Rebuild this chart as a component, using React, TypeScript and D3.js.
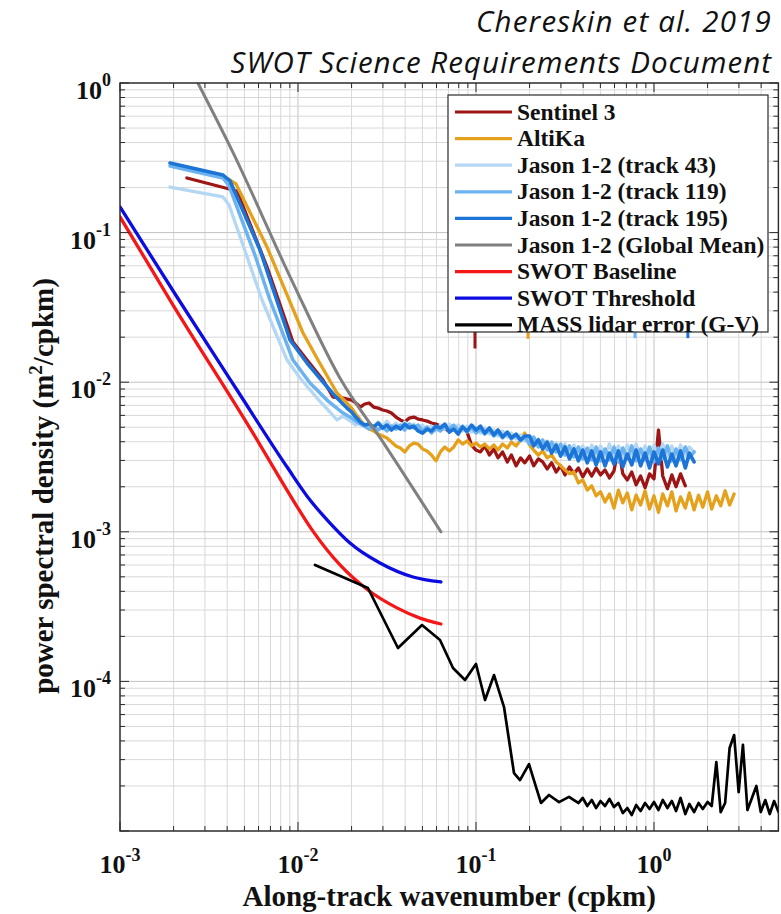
import React from 'react';
import * as d3 from 'd3';

// ---------------- data ----------------
const xDomain: [number, number] = [1e-3, 5];
const yDomain: [number, number] = [1e-5, 1];
const xTickExps = [-3, -2, -1, 0];
const yTickExps = [0, -1, -2, -3, -4];

const titleLines = ['Chereskin et al. 2019', 'SWOT Science Requirements Document'];
const xTitle = 'Along-track wavenumber (cpkm)';

// shared wavenumber sampling grid (cpkm) for the noisy high-wavenumber parts
const kGrid = [
  0.0200, 0.0211, 0.0224, 0.0237, 0.0251, 0.0266, 0.0282, 0.0299, 0.0316, 0.0335,
  0.0355, 0.0376, 0.0398, 0.0422, 0.0447, 0.0473, 0.0501, 0.0531, 0.0562, 0.0596,
  0.0631, 0.0668, 0.0708, 0.0750, 0.0794, 0.0841, 0.0891, 0.0944, 0.100, 0.106,
  0.112, 0.119, 0.126, 0.133, 0.141, 0.150, 0.158, 0.168, 0.178, 0.188,
  0.200, 0.211, 0.224, 0.237, 0.251, 0.266, 0.282, 0.299, 0.316, 0.335,
  0.355, 0.376, 0.398, 0.422, 0.447, 0.473, 0.501, 0.531, 0.562, 0.596,
  0.631, 0.668, 0.708, 0.750, 0.794, 0.841, 0.891, 0.944, 1.00, 1.06,
  1.12, 1.19, 1.26, 1.33, 1.41, 1.50, 1.58, 1.68, 1.78, 1.88,
  2.00, 2.11, 2.24, 2.37, 2.51, 2.66, 2.82, 2.99, 3.16, 3.35,
  3.55, 3.76, 3.98, 4.22, 4.47, 4.73, 5.01,
];

// Sentinel 3
const sentinelHead: [number, number][] = [
  [0.002378, 0.2317], [0.004543, 0.1897], [0.0067, 0.0589], [0.00937, 0.01856],
  [0.01124, 0.01407], [0.01382, 0.01035], [0.01572, 0.00796], [0.0179, 0.00784],
];
const sentinelTail = [
  7.60e-3, 7.26e-3, 6.82e-3, 7.15e-3, 7.26e-3, 6.82e-3, 6.72e-3, 6.52e-3, 6.42e-3, 6.22e-3,
  5.85e-3, 5.59e-3, 5.42e-3, 5.76e-3, 5.85e-3, 5.67e-3, 5.59e-3, 5.50e-3, 5.33e-3, 5.25e-3,
  5.09e-3, 4.86e-3, 4.72e-3, 4.86e-3, 4.79e-3, 4.94e-3, 4.64e-3, 3.80e-3, 3.52e-3, 3.42e-3,
  3.75e-3, 3.26e-3, 3.58e-3, 3.12e-3, 3.42e-3, 2.93e-3, 3.26e-3, 2.76e-3, 3.12e-3, 2.89e-3,
  3.21e-3, 2.76e-3, 3.07e-3, 2.93e-3, 2.63e-3, 2.89e-3, 2.51e-3, 2.76e-3, 2.40e-3, 2.71e-3,
  2.44e-3, 2.67e-3, 2.33e-3, 2.63e-3, 2.36e-3, 2.67e-3, 2.40e-3, 2.59e-3, 2.29e-3, 2.55e-3,
  3.69e-3, 2.44e-3, 2.22e-3, 2.51e-3, 2.06e-3, 2.36e-3, 1.97e-3, 2.44e-3, 2.26e-3, 4.79e-3,
  2.36e-3, 1.94e-3, 2.40e-3, 2.00e-3, 2.44e-3, 2.03e-3,
];

// AltiKa
const altikaHead: [number, number][] = [
  [0.004043, 0.2282], [0.004485, 0.2113], [0.0067, 0.0801], [0.00868, 0.03828],
  [0.01067, 0.02132], [0.01324, 0.01344], [0.01656, 0.00847], [0.01885, 0.00726],
];
const altikaTail = [
  6.72e-3, 6.13e-3, 5.59e-3, 5.09e-3, 4.86e-3, 4.72e-3, 4.50e-3, 4.37e-3, 4.24e-3, 3.98e-3,
  3.75e-3, 3.63e-3, 3.42e-3, 3.75e-3, 3.92e-3, 3.86e-3, 3.58e-3, 3.47e-3, 3.26e-3, 2.98e-3,
  3.42e-3, 3.69e-3, 3.47e-3, 3.69e-3, 4.11e-3, 3.86e-3, 4.05e-3, 3.75e-3, 3.92e-3, 3.69e-3,
  3.86e-3, 3.58e-3, 3.80e-3, 3.52e-3, 3.86e-3, 3.63e-3, 3.98e-3, 3.75e-3, 4.11e-3, 4.57e-3,
  3.80e-3, 3.52e-3, 3.26e-3, 3.47e-3, 3.12e-3, 3.26e-3, 2.93e-3, 2.76e-3, 2.59e-3, 2.44e-3,
  2.51e-3, 2.12e-3, 2.22e-3, 1.90e-3, 2.03e-3, 1.74e-3, 1.85e-3, 1.58e-3, 1.79e-3, 1.44e-3,
  1.90e-3, 1.56e-3, 1.82e-3, 1.40e-3, 1.76e-3, 1.51e-3, 1.88e-3, 1.42e-3, 1.74e-3, 1.35e-3,
  1.79e-3, 1.49e-3, 1.85e-3, 1.38e-3, 1.71e-3, 1.44e-3, 1.82e-3, 1.40e-3, 1.76e-3, 1.46e-3,
  1.85e-3, 1.42e-3, 1.74e-3, 1.49e-3, 1.88e-3, 1.51e-3, 1.79e-3,
];

// Jason 1-2 (track 43)
const jason43Head: [number, number][] = [
  [0.00191, 0.2017], [0.00379, 0.173], [0.0041, 0.153], [0.00628, 0.03544],
  [0.00868, 0.01407], [0.01026, 0.01067], [0.01279, 0.00784], [0.01513, 0.00632],
  [0.01656, 0.00559], [0.0179, 0.00594],
];
const jason43Tail = [
  5.42e-3, 5.17e-3, 5.50e-3, 5.02e-3, 5.33e-3, 4.94e-3, 5.42e-3, 5.09e-3, 5.50e-3, 5.02e-3,
  5.33e-3, 4.94e-3, 5.42e-3, 5.02e-3, 5.25e-3, 4.86e-3, 5.17e-3, 4.79e-3, 5.09e-3, 4.72e-3,
  5.17e-3, 4.86e-3, 5.25e-3, 4.79e-3, 5.17e-3, 4.72e-3, 5.09e-3, 4.64e-3, 5.02e-3, 4.57e-3,
  4.94e-3, 4.50e-3, 4.79e-3, 4.37e-3, 4.72e-3, 4.30e-3, 4.57e-3, 4.17e-3, 4.44e-3, 4.05e-3,
  4.30e-3, 3.80e-3, 4.17e-3, 3.63e-3, 4.05e-3, 3.47e-3, 3.92e-3, 3.36e-3, 3.86e-3, 3.26e-3,
  3.80e-3, 3.21e-3, 3.75e-3, 3.16e-3, 3.80e-3, 3.12e-3, 3.75e-3, 3.21e-3, 3.86e-3, 3.16e-3,
  3.75e-3, 3.12e-3, 3.80e-3, 3.21e-3, 3.86e-3, 3.16e-3, 3.75e-3, 3.12e-3, 3.80e-3, 3.21e-3,
  3.86e-3, 3.16e-3, 3.75e-3, 3.12e-3, 3.80e-3, 3.21e-3, 3.69e-3, 3.42e-3,
];

// Jason 1-2 (track 119)
const jason119Head: [number, number][] = [
  [0.00191, 0.2788], [0.00379, 0.2317], [0.0041, 0.2049], [0.00573, 0.0708],
  [0.00696, 0.03544], [0.00937, 0.01407], [0.01168, 0.00988], [0.01455, 0.0076],
  [0.0179, 0.00622],
];
const jason119Tail = [
  5.76e-3, 5.50e-3, 5.25e-3, 5.09e-3, 4.86e-3, 5.09e-3, 4.79e-3, 5.02e-3, 4.72e-3, 5.09e-3,
  4.86e-3, 5.17e-3, 4.79e-3, 5.25e-3, 4.94e-3, 5.17e-3, 4.72e-3, 5.02e-3, 4.57e-3, 4.94e-3,
  4.72e-3, 5.09e-3, 4.86e-3, 5.17e-3, 4.72e-3, 5.09e-3, 4.64e-3, 5.02e-3, 4.57e-3, 4.86e-3,
  4.50e-3, 4.79e-3, 4.37e-3, 4.64e-3, 4.24e-3, 4.57e-3, 4.17e-3, 4.44e-3, 4.05e-3, 4.30e-3,
  3.86e-3, 4.30e-3, 3.69e-3, 4.11e-3, 3.52e-3, 3.98e-3, 3.42e-3, 3.86e-3, 3.26e-3, 3.75e-3,
  3.16e-3, 3.69e-3, 3.07e-3, 3.63e-3, 3.02e-3, 3.69e-3, 2.98e-3, 3.58e-3, 3.02e-3, 3.69e-3,
  2.93e-3, 3.63e-3, 3.07e-3, 3.75e-3, 2.98e-3, 3.58e-3, 3.02e-3, 3.69e-3, 2.93e-3, 3.63e-3,
  3.07e-3, 3.75e-3, 2.98e-3, 3.58e-3, 3.02e-3, 3.69e-3, 3.12e-3, 3.42e-3,
];

// Jason 1-2 (track 195)
const jason195Head: [number, number][] = [
  [0.00191, 0.2919], [0.00379, 0.2427], [0.00415, 0.2213], [0.00612, 0.0765],
  [0.00902, 0.01915], [0.01124, 0.01344], [0.01382, 0.01003], [0.01614, 0.00809],
  [0.01885, 0.00672],
];
const jason195Tail = [
  6.32e-3, 5.85e-3, 5.42e-3, 5.17e-3, 5.25e-3, 5.02e-3, 5.33e-3, 4.94e-3, 5.17e-3, 4.79e-3,
  5.09e-3, 4.86e-3, 5.25e-3, 4.94e-3, 5.09e-3, 4.72e-3, 4.57e-3, 4.86e-3, 4.72e-3, 5.09e-3,
  4.94e-3, 5.25e-3, 4.64e-3, 4.86e-3, 4.50e-3, 5.02e-3, 4.72e-3, 5.17e-3, 4.79e-3, 5.09e-3,
  4.57e-3, 4.94e-3, 4.44e-3, 4.79e-3, 4.30e-3, 4.64e-3, 4.24e-3, 4.50e-3, 4.11e-3, 4.37e-3,
  4.37e-3, 3.75e-3, 4.11e-3, 3.58e-3, 3.98e-3, 3.36e-3, 3.80e-3, 3.21e-3, 3.69e-3, 3.07e-3,
  3.58e-3, 2.98e-3, 3.52e-3, 2.89e-3, 3.47e-3, 2.80e-3, 3.42e-3, 2.76e-3, 3.36e-3, 2.84e-3,
  3.47e-3, 2.71e-3, 3.31e-3, 2.80e-3, 3.52e-3, 2.76e-3, 3.36e-3, 2.67e-3, 3.42e-3, 2.84e-3,
  3.52e-3, 2.71e-3, 3.31e-3, 2.76e-3, 3.47e-3, 2.67e-3, 3.36e-3, 2.93e-3,
];

// Jason 1-2 (Global Mean)
const jasonGlobal: [number, number][] = [
  [0.00274, 1.0], [0.00425, 0.356], [0.00938, 0.046], [0.0172, 0.01067],
  [0.0308, 0.0038], [0.0635, 0.001],
];

// SWOT Baseline
const swotBaseline: [number, number][] = [
  [0.001, 0.1272], [0.001986, 0.0328], [0.005587, 0.00457], [0.009016, 0.00176],
  [0.01199, 0.00103], [0.01722, 0.0006], [0.02471, 0.000408], [0.03597, 0.00031],
  [0.04842, 0.000265], [0.0635, 0.000242],
];

// SWOT Threshold
const swotThreshold: [number, number][] = [
  [0.001, 0.1483], [0.00209, 0.03711], [0.004543, 0.00887], [0.00868, 0.00271],
  [0.01168, 0.00163], [0.01513, 0.001145], [0.01959, 0.000842], [0.02888, 0.000619],
  [0.04426, 0.000499], [0.0635, 0.000462],
];

// MASS lidar error (G-V)
const massHead: [number, number][] = [
  [0.01246, 6.0e-4], [0.02471, 4.21e-4], [0.03645, 1.672e-4], [0.04973, 2.38e-4],
  [0.06278, 1.891e-4], [0.07429, 1.229e-4], [0.08675, 1.022e-4], [0.1, 1.307e-4],
  [0.1124, 7.51e-5], [0.1263, 1.103e-4], [0.1437, 6.74e-5], [0.1635, 2.44e-5],
  [0.1767, 2.19e-5], [0.1985, 2.80e-5], [0.2173, 1.97e-5], [0.2318, 1.54e-5],
  [0.2571, 1.74e-5], [0.2926, 1.56e-5], [0.3331, 1.69e-5],
];
const MASS_TAIL_START = 50;
const massTail = [
  1.611e-5, 1.539e-5, 1.662e-5, 1.469e-5, 1.611e-5, 1.424e-5, 1.586e-5, 1.469e-5, 1.636e-5, 1.446e-5,
  1.539e-5, 1.319e-5, 1.424e-5, 1.279e-5, 1.492e-5, 1.360e-5, 1.539e-5, 1.403e-5, 1.563e-5, 1.381e-5,
  1.611e-5, 1.424e-5, 1.586e-5, 1.360e-5, 1.662e-5, 1.299e-5, 1.515e-5, 1.339e-5, 1.539e-5, 1.403e-5,
  1.563e-5, 1.469e-5, 2.89e-5, 1.339e-5, 1.539e-5, 3.59e-5, 4.38e-5, 1.822e-5, 3.76e-5, 1.381e-5,
  1.662e-5, 2.00e-5, 1.339e-5, 1.611e-5, 1.299e-5, 1.586e-5, 1.339e-5,
];

// isolated outlier spikes peeking out below the legend: [k, p top, p bottom]
const spikeSentinel: [number, number, number] = [0.0987, 0.03, 0.0168];
const spikeAltika: [number, number, number] = [0.196, 0.03, 0.0195];
const spikeJason119: [number, number, number] = [0.782, 0.03, 0.0197];
const spikeJason195: [number, number, number] = [1.55, 0.03, 0.0197];

// ---------------- styling ----------------
const C = {
  sentinel: '#9e1515',
  altika: '#e6a11c',
  j43: '#b4d7f4',
  j119: '#6cb2ef',
  j195: '#1b74d6',
  global: '#808080',
  base: '#f51717',
  thr: '#0c0ce0',
  mass: '#000000',
};

const W = 781;
const H = 914;
const PL = 120;
const PR = 778.4;
const PT = 83;
const PB = 831;

const SERIF = '"Liberation Serif", "Times New Roman", Times, serif';
const SANS = '"Open Sans", "Noto Sans", sans-serif';

function withTail(head: [number, number][], tail: number[], start: number): [number, number][] {
  return head.concat(tail.map((p, i) => [kGrid[start + i], p] as [number, number]));
}

export default function App() {
  const xs = d3.scaleLog().domain(xDomain).range([PL, PR]);
  const ys = d3.scaleLog().domain(yDomain).range([PB, PT]);
  const line = d3
    .line<[number, number]>()
    .x((d) => xs(d[0]))
    .y((d) => ys(d[1]));
  const smooth = d3
    .line<[number, number]>()
    .x((d) => xs(d[0]))
    .y((d) => ys(d[1]))
    .curve(d3.curveMonotoneX);

  const series = [
    { name: 'Sentinel 3', color: C.sentinel, w: 3.3, smooth: false, data: withTail(sentinelHead, sentinelTail, 0) },
    { name: 'AltiKa', color: C.altika, w: 3.3, smooth: false, data: withTail(altikaHead, altikaTail, 0) },
    { name: 'Jason 1-2 (track 43)', color: C.j43, w: 3.3, smooth: false, data: withTail(jason43Head, jason43Tail, 0) },
    { name: 'Jason 1-2 (track 119)', color: C.j119, w: 3.5, smooth: false, data: withTail(jason119Head, jason119Tail, 0) },
    { name: 'Jason 1-2 (track 195)', color: C.j195, w: 3.6, smooth: false, data: withTail(jason195Head, jason195Tail, 0) },
    { name: 'Jason 1-2 (Global Mean)', color: C.global, w: 3, smooth: true, data: jasonGlobal },
    { name: 'SWOT Baseline', color: C.base, w: 3.3, smooth: true, data: swotBaseline },
    { name: 'SWOT Threshold', color: C.thr, w: 3.3, smooth: true, data: swotThreshold },
    { name: 'MASS lidar error (G-V)', color: C.mass, w: 2.7, smooth: false, data: withTail(massHead, massTail, MASS_TAIL_START) },
  ];

  const spikes = [
    { s: spikeSentinel, color: C.sentinel },
    { s: spikeAltika, color: C.altika },
    { s: spikeJason119, color: C.j119 },
    { s: spikeJason195, color: C.j195 },
  ];

  const isMajor = (v: number) => Math.abs(Math.log10(v) - Math.round(Math.log10(v))) < 1e-6;
  const xTicks = xs.ticks(20);
  const yTicks = ys.ticks(20);

  // legend geometry
  const LX = 448;
  const LY = 95;
  const LW = 320;
  const LH = 237;
  const rowH = 26.6;
  const row0 = 112;

  return (
    <svg
      width={W}
      height={H}
      viewBox={`0 0 ${W} ${H}`}
      style={{ position: 'absolute', left: 0, top: 0, background: '#ffffff' }}
    >
      <defs>
        <clipPath id="plotClip">
          <rect x={PL} y={PT} width={PR - PL} height={PB - PT} />
        </clipPath>
      </defs>
      <rect x={0} y={0} width={W} height={H} fill="#ffffff" />

      {/* titles */}
      <text x={772} y={32} textAnchor="end" fontFamily={SANS} fontStyle="italic" fontSize={29.5} letterSpacing={1.2} fill="#111">
        {titleLines[0]}
      </text>
      <text x={772} y={72.5} textAnchor="end" fontFamily={SANS} fontStyle="italic" fontSize={29.5} letterSpacing={1} fill="#111">
        {titleLines[1]}
      </text>

      {/* grid */}
      <g>
        {xTicks.map((v, i) => (
          <line
            key={'gx' + i}
            x1={xs(v)}
            x2={xs(v)}
            y1={PT}
            y2={PB}
            stroke={isMajor(v) ? '#c2c2c2' : '#d8d8d8'}
            strokeWidth={1}
          />
        ))}
        {yTicks.map((v, i) => (
          <line
            key={'gy' + i}
            x1={PL}
            x2={PR}
            y1={ys(v)}
            y2={ys(v)}
            stroke={isMajor(v) ? '#c2c2c2' : '#d8d8d8'}
            strokeWidth={1}
          />
        ))}
      </g>

      {/* data */}
      <g clipPath="url(#plotClip)">
        {series.map((s) => (
          <path
            key={s.name}
            d={(s.smooth ? smooth(s.data) : line(s.data)) || ''}
            fill="none"
            stroke={s.color}
            strokeWidth={s.w}
            strokeLinejoin="round"
            strokeLinecap="round"
          />
        ))}
        {spikes.map((sp, i) => (
          <line
            key={'sp' + i}
            x1={xs(sp.s[0])}
            x2={xs(sp.s[0])}
            y1={ys(sp.s[1])}
            y2={ys(sp.s[2])}
            stroke={sp.color}
            strokeWidth={3}
          />
        ))}
      </g>

      {/* ticks */}
      <g stroke="#2a2a2a" strokeWidth={1}>
        {xTicks.map((v, i) => {
          const L = isMajor(v) ? 9 : 5;
          const x = xs(v);
          return (
            <g key={'tx' + i}>
              <line x1={x} x2={x} y1={PB} y2={PB - L} />
              <line x1={x} x2={x} y1={PT} y2={PT + L} />
            </g>
          );
        })}
        {yTicks.map((v, i) => {
          const L = isMajor(v) ? 9 : 5;
          const y = ys(v);
          return (
            <g key={'ty' + i}>
              <line x1={PL} x2={PL + L} y1={y} y2={y} />
              <line x1={PR} x2={PR - L} y1={y} y2={y} />
            </g>
          );
        })}
      </g>
      <rect x={PL} y={PT} width={PR - PL} height={PB - PT} fill="none" stroke="#2a2a2a" strokeWidth={1.4} />

      {/* legend */}
      <g>
        <rect x={LX} y={LY} width={LW} height={LH} fill="#ffffff" stroke="#2a2a2a" strokeWidth={1.2} />
        {series.map((s, i) => {
          const cy = row0 + i * rowH;
          return (
            <g key={'lg' + i}>
              <line x1={455} x2={512} y1={cy} y2={cy} stroke={s.color} strokeWidth={3.2} />
              <text x={517} y={cy + 7.5} fontFamily={SERIF} fontWeight="bold" fontSize={23.5} fill="#111">
                {s.name}
              </text>
            </g>
          );
        })}
      </g>

      {/* y tick labels */}
      {yTickExps.map((e) => {
        const y = ys(Math.pow(10, e));
        return (
          <text key={'yl' + e} x={111} y={y + 16} textAnchor="end" fontFamily={SERIF} fontWeight="bold" fontSize={26} fill="#111">
            10
            <tspan dy={-13} fontSize={18}>{String(e)}</tspan>
          </text>
        );
      })}

      {/* x tick labels */}
      {xTickExps.map((e) => {
        const x = xs(Math.pow(10, e));
        return (
          <text key={'xl' + e} x={x} y={873} textAnchor="middle" fontFamily={SERIF} fontWeight="bold" fontSize={26} fill="#111">
            10
            <tspan dy={-12} fontSize={18}>{String(e)}</tspan>
          </text>
        );
      })}

      {/* axis titles */}
      <text x={(PL + PR) / 2} y={906} textAnchor="middle" fontFamily={SERIF} fontWeight="bold" fontSize={29} fill="#111">
        {xTitle}
      </text>
      <text
        transform={`translate(53, 486) rotate(-90)`}
        textAnchor="middle"
        fontFamily={SERIF}
        fontWeight="bold"
        fontSize={29}
        fill="#111"
      >
        power spectral density (m
        <tspan dy={-11} fontSize={19}>2</tspan>
        <tspan dy={11}>/cpkm)</tspan>
      </text>
    </svg>
  );
}
